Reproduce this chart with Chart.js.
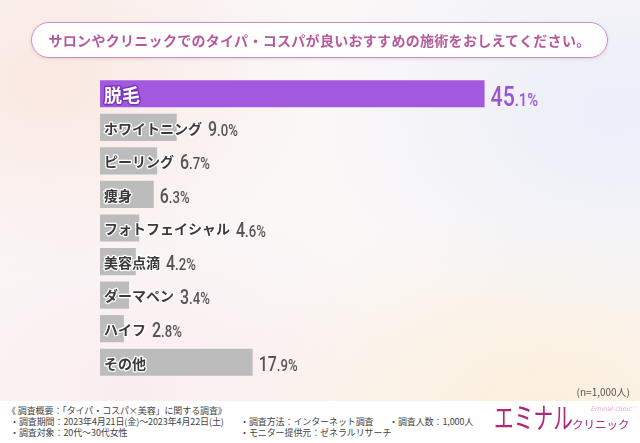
<!DOCTYPE html>
<html><head><meta charset="utf-8">
<script src="https://cdn.jsdelivr.net/npm/chart.js@4/dist/chart.umd.min.js"></script>
<style>
html,body{margin:0;padding:0;width:640px;height:443px;overflow:hidden;}
body{position:relative;font-family:"Noto Sans CJK JP","Noto Sans",sans-serif;
 background:
  radial-gradient(ellipse 260px 200px at 8% 18%, rgba(250,228,220,0.8), rgba(250,228,220,0) 100%),
  radial-gradient(ellipse 300px 220px at 96% 25%, rgba(234,238,249,0.95), rgba(234,238,249,0) 100%),
  radial-gradient(ellipse 340px 200px at 85% 92%, rgba(252,238,216,0.9), rgba(252,238,216,0) 100%),
  radial-gradient(ellipse 280px 200px at 20% 88%, rgba(250,234,238,0.8), rgba(250,234,238,0) 100%),
  #faf7f7;}
#title{position:absolute;left:31px;top:22px;width:577px;height:36px;box-sizing:border-box;border:1.3px solid #c98fc0;border-radius:19px;background:rgba(255,255,255,0.92);
 box-shadow:0 1px 3px rgba(180,120,170,0.25);
 text-align:center;line-height:34px;font-size:14px;font-weight:bold;color:#b65a9e;letter-spacing:0.3px;}
#wrap{position:absolute;left:0;top:0;width:640px;height:443px;}
#footer{position:absolute;left:0;top:401px;width:640px;height:42px;background:#ffffff;}
.ft{position:absolute;font-size:9px;color:#444;white-space:nowrap;line-height:11px;letter-spacing:-0.1px;}
#n{position:absolute;right:10px;top:384px;font-size:10px;color:#555;}
#logo1{position:absolute;left:494px;top:399px;font-size:29px;color:#b0287a;line-height:34px;transform:scaleX(0.68);transform-origin:0 0;white-space:nowrap;}
#logo2{position:absolute;left:572px;top:417px;font-size:11.5px;color:#b0287a;line-height:14px;white-space:nowrap;}
#logo3{position:absolute;left:591px;top:405px;font-size:6.5px;color:#eaa8cd;font-style:italic;font-family:"DejaVu Sans";white-space:nowrap;}
</style></head>
<body>
<div id="wrap"><canvas id="c" width="640" height="443"></canvas></div>
<div id="title">サロンやクリニックでのタイパ・コスパが良いおすすめの施術をおしえてください。</div>
<div id="n">(n=1,000人)</div>
<div id="footer">
 <div class="ft" style="left:7px;top:4px;">《 調査概要：「タイパ・コスパ×美容」に関する調査》</div>
 <div class="ft" style="left:10px;top:15px;">・調査期間：2023年4月21日(金)～2023年4月22日(土)</div>
 <div class="ft" style="left:10px;top:26px;">・調査対象：20代～30代女性</div>
 <div class="ft" style="left:240px;top:15px;">・調査方法：インターネット調査</div>
 <div class="ft" style="left:240px;top:26px;">・モニター提供元：ゼネラルリサーチ</div>
 <div class="ft" style="left:389px;top:15px;">・調査人数：1,000人</div>
</div>
<div id="logo1">エミナル</div>
<div id="logo2">クリニック</div>
<div id="logo3">Eminal clinic♡</div>
<script>
const categories = ['脱毛','ホワイトニング','ピーリング','痩身','フォトフェイシャル','美容点滴','ダーマペン','ハイフ','その他'];
const values = [45.1, 9.0, 6.7, 6.3, 4.6, 4.2, 3.4, 2.8, 17.9];
const highlightIndex = 0;

const PURPLE = '#a258df';
const GRAY = '#bcbcbc';
const numFont = 'Roboto,"Liberation Sans",sans-serif';
const jpFont = '"Noto Sans CJK JP",sans-serif';

const labelPlugin = {
  id: 'labels',
  afterDatasetsDraw(chart) {
    const ctx = chart.ctx;
    const meta = chart.getDatasetMeta(0);
    meta.data.forEach((bar, i) => {
      const hi = i === highlightIndex;
      const y = bar.y;
      const left = chart.chartArea.left;
      ctx.save();
      ctx.font = (hi ? 'bold 18px ' : 'bold 14px ') + jpFont;
      ctx.textBaseline = 'middle';
      ctx.textAlign = 'left';
      ctx.lineJoin = 'round';
      ctx.lineWidth = hi ? 3 : 2.5;
      ctx.strokeStyle = hi ? '#7a35b8' : '#ffffff';
      ctx.fillStyle = hi ? '#ffffff' : '#3a3a3a';
      const lx = left + 4;
      ctx.strokeText(categories[i], lx, y + 1);
      ctx.fillText(categories[i], lx, y + 1);
      const labelEnd = lx + ctx.measureText(categories[i]).width;
      const startX = Math.max(labelEnd, bar.x) + 6;
      const s = values[i].toFixed(1) + '%';
      const intPart = s.split('.')[0];
      const rest = '.' + s.split('.')[1];
      const big = hi ? 28 : 21;
      const small = hi ? 18 : 16;
      ctx.textBaseline = 'alphabetic';
      ctx.fillStyle = hi ? '#9a55d2' : '#555555';
      const base = y + (hi ? 12.5 : 8.5);
      ctx.translate(startX, base);
      ctx.save();
      ctx.scale(0.76, 1);
      ctx.font = '500 ' + big + 'px ' + numFont;
      ctx.fillText(intPart, 0, 0);
      const w = ctx.measureText(intPart).width * 0.76;
      ctx.restore();
      ctx.translate(w, 0);
      ctx.scale(0.82, 1);
      ctx.font = '500 ' + small + 'px ' + numFont;
      ctx.fillText(rest, 0, 0);
      ctx.restore();
    });
  }
};

new Chart(document.getElementById('c'), {
  type: 'bar',
  data: {
    labels: categories,
    datasets: [{
      data: values,
      backgroundColor: values.map((v, i) => i === highlightIndex ? PURPLE : GRAY),
      borderWidth: 0,
      barPercentage: 0.81,
      categoryPercentage: 1.0
    }]
  },
  options: {
    indexAxis: 'y',
    responsive: false,
    animation: false,
    layout: { padding: { left: 100, top: 77, right: 71, bottom: 64 } },
    scales: {
      x: { display: false, min: 0, max: 55 },
      y: { display: false }
    },
    plugins: { legend: { display: false }, tooltip: { enabled: false } }
  },
  plugins: [labelPlugin]
});
</script>
</body></html>
